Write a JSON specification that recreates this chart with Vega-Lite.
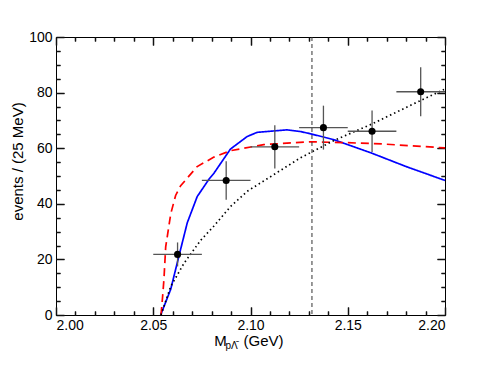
{
  "$schema": "https://vega.github.io/schema/vega-lite/v6.json",
  "width": 389,
  "height": 278,
  "autosize": {"type": "none"},
  "padding": {"left": 56, "top": 37, "right": 35, "bottom": 56},
  "config": {"view": {"stroke": "black"}, "axis": {"grid": false}},
  "datasets": {
    "curves": [
      {"m": 2.0538, "n": 0, "model": "blue"},
      {"m": 2.059, "n": 9.3, "model": "blue"},
      {"m": 2.0632, "n": 21.2, "model": "blue"},
      {"m": 2.0675, "n": 33.2, "model": "blue"},
      {"m": 2.0726, "n": 42.6, "model": "blue"},
      {"m": 2.0786, "n": 48.8, "model": "blue"},
      {"m": 2.0812, "n": 51.0, "model": "blue"},
      {"m": 2.0897, "n": 59.7, "model": "blue"},
      {"m": 2.0983, "n": 64.2, "model": "blue"},
      {"m": 2.1034, "n": 65.7, "model": "blue"},
      {"m": 2.1188, "n": 66.6, "model": "blue"},
      {"m": 2.1256, "n": 66.0, "model": "blue"},
      {"m": 2.1308, "n": 65.2, "model": "blue"},
      {"m": 2.1427, "n": 63.1, "model": "blue"},
      {"m": 2.1624, "n": 58.2, "model": "blue"},
      {"m": 2.18, "n": 53.4, "model": "blue"},
      {"m": 2.2, "n": 48.4, "model": "blue"},
      {"m": 2.0540, "n": 0, "model": "red"},
      {"m": 2.0548, "n": 6.5, "model": "red"},
      {"m": 2.0555, "n": 12.9, "model": "red"},
      {"m": 2.0564, "n": 24.5, "model": "red"},
      {"m": 2.059, "n": 36.4, "model": "red"},
      {"m": 2.0615, "n": 43.0, "model": "red"},
      {"m": 2.0641, "n": 46.5, "model": "red"},
      {"m": 2.0726, "n": 53.4, "model": "red"},
      {"m": 2.0812, "n": 56.8, "model": "red"},
      {"m": 2.0897, "n": 59.1, "model": "red"},
      {"m": 2.1068, "n": 61.3, "model": "red"},
      {"m": 2.1308, "n": 62.3, "model": "red"},
      {"m": 2.1496, "n": 62.0, "model": "red"},
      {"m": 2.1684, "n": 61.5, "model": "red"},
      {"m": 2.2, "n": 60.1, "model": "red"},
      {"m": 2.0540, "n": 0, "model": "black"},
      {"m": 2.059, "n": 10.3, "model": "black"},
      {"m": 2.0658, "n": 18.6, "model": "black"},
      {"m": 2.0744, "n": 26.9, "model": "black"},
      {"m": 2.0812, "n": 32.0, "model": "black"},
      {"m": 2.0897, "n": 39.0, "model": "black"},
      {"m": 2.0983, "n": 44.5, "model": "black"},
      {"m": 2.1154, "n": 52.0, "model": "black"},
      {"m": 2.1256, "n": 56.5, "model": "black"},
      {"m": 2.1427, "n": 62.7, "model": "black"},
      {"m": 2.1624, "n": 68.7, "model": "black"},
      {"m": 2.1855, "n": 76.5, "model": "black"},
      {"m": 2.2, "n": 81.3, "model": "black"}
    ],
    "points": [
      {"m": 2.0625, "n": 21.8, "mlo": 2.05, "mhi": 2.075, "nlo": 17.5, "nhi": 26.1},
      {"m": 2.0875, "n": 48.4, "mlo": 2.075, "mhi": 2.1, "nlo": 41.5, "nhi": 55.3},
      {"m": 2.1125, "n": 60.5, "mlo": 2.1, "mhi": 2.125, "nlo": 52.7, "nhi": 68.3},
      {"m": 2.1375, "n": 67.4, "mlo": 2.125, "mhi": 2.15, "nlo": 59.5, "nhi": 75.3},
      {"m": 2.1625, "n": 66.1, "mlo": 2.15, "mhi": 2.175, "nlo": 58.6, "nhi": 73.6},
      {"m": 2.1875, "n": 80.3, "mlo": 2.175, "mhi": 2.2, "nlo": 71.5, "nhi": 89.1}
    ],
    "threshold": [{"m": 2.1316}]
  },
  "resolve": {"axis": {"x": "independent", "y": "independent"}},
  "layer": [
    {
      "data": {"name": "curves"},
      "mark": {"type": "line", "strokeWidth": 1.7},
      "encoding": {
        "x": {"field": "m", "type": "quantitative", "scale": {"domain": [2.0, 2.2], "nice": false, "zero": false},
          "axis": {"orient": "bottom", "values": [2.0, 2.05, 2.1, 2.15, 2.2], "domain": false, "tickSize": -8, "tickColor": "#111111", "tickWidth": 1.5, "grid": true, "gridColor": "#111111", "gridWidth": 1, "gridOpacity": 1, "gridDash": [8, 262, 8, 1000], "labelPadding": 11, "labelFont": "Liberation Sans", "labelFontSize": 14, "labelColor": "black", "title": "M", "titleFont": "Liberation Sans", "titleFontSize": 15, "titleFontWeight": "normal", "titleColor": "black", "titleX": 164, "titleY": 30, "titleBaseline": "alphabetic", "titleAlign": "center"}},
        "y": {"field": "n", "type": "quantitative", "scale": {"domain": [0, 100], "nice": false},
          "axis": {"orient": "left", "values": [0, 20, 40, 60, 80, 100], "domain": false, "tickSize": -8, "tickColor": "#111111", "tickWidth": 1.5, "grid": true, "gridColor": "#111111", "gridWidth": 1, "gridOpacity": 1, "gridDash": [8, 373, 8, 1000], "labelPadding": 12, "labelFont": "Liberation Sans", "labelFontSize": 14, "labelColor": "black", "title": "events / (25 MeV)", "titleFont": "Liberation Sans", "titleFontSize": 15, "titleFontWeight": "normal", "titleColor": "black", "titleX": -39, "titleY": 124, "titleBaseline": "middle", "titleAlign": "center", "titleAngle": -90}},
        "color": {"field": "model", "type": "nominal", "scale": {"domain": ["blue", "red", "black"], "range": ["#0000ff", "#ff0000", "#000000"]}, "legend": null},
        "strokeDash": {"field": "model", "type": "nominal", "scale": {"domain": ["blue", "red", "black"], "range": [[1, 0], [8, 5], [1.5, 3]]}, "legend": null}
      }
    },
    {
      "data": {"name": "points"},
      "mark": {"type": "rule", "color": "#555555", "strokeWidth": 1.3},
      "encoding": {
        "x": {"field": "mlo", "type": "quantitative", "scale": {"domain": [2.0, 2.2], "nice": false, "zero": false},
          "axis": {"orient": "bottom", "values": [2.01, 2.02, 2.03, 2.04, 2.06, 2.07, 2.08, 2.09, 2.11, 2.12, 2.13, 2.14, 2.16, 2.17, 2.18, 2.19], "domain": false, "tickSize": -4, "tickColor": "#111111", "tickWidth": 1.5, "grid": true, "gridColor": "#111111", "gridWidth": 1, "gridOpacity": 1, "gridDash": [4, 270, 4, 1000], "labels": false, "title": "(GeV)", "titleFont": "Liberation Sans", "titleFontSize": 15, "titleFontWeight": "normal", "titleColor": "black", "titleX": 207, "titleY": 30, "titleBaseline": "alphabetic", "titleAlign": "center"}},
        "x2": {"field": "mhi"},
        "y": {"field": "n", "type": "quantitative", "scale": {"domain": [0, 100], "nice": false},
          "axis": {"orient": "left", "values": [5, 10, 15, 25, 30, 35, 45, 50, 55, 65, 70, 75, 85, 90, 95], "domain": false, "tickSize": -4, "tickColor": "#111111", "tickWidth": 1.5, "grid": true, "gridColor": "#111111", "gridWidth": 1, "gridOpacity": 1, "gridDash": [4, 381, 4, 1000], "labels": false, "title": null}}
      }
    },
    {
      "data": {"name": "points"},
      "mark": {"type": "rule", "color": "#555555", "strokeWidth": 1.3},
      "encoding": {
        "x": {"field": "m", "type": "quantitative", "scale": {"domain": [2.0, 2.2], "nice": false, "zero": false},
          "axis": {"orient": "top", "values": [2.0, 2.05, 2.1, 2.15, 2.2], "domain": false, "tickSize": -8, "tickColor": "#111111", "tickWidth": 1.5, "labels": false, "title": null}},
        "y": {"field": "nlo", "type": "quantitative", "scale": {"domain": [0, 100], "nice": false},
          "axis": {"orient": "right", "values": [0, 20, 40, 60, 80, 100], "domain": false, "tickSize": -8, "tickColor": "#111111", "tickWidth": 1.5, "labels": false, "title": null}},
        "y2": {"field": "nhi"}
      }
    },
    {
      "data": {"name": "points"},
      "mark": {"type": "circle", "color": "black", "opacity": 1, "size": 50},
      "encoding": {
        "x": {"field": "m", "type": "quantitative", "scale": {"domain": [2.0, 2.2], "nice": false, "zero": false},
          "axis": {"orient": "top", "values": [2.01, 2.02, 2.03, 2.04, 2.06, 2.07, 2.08, 2.09, 2.11, 2.12, 2.13, 2.14, 2.16, 2.17, 2.18, 2.19], "domain": false, "tickSize": -4, "tickColor": "#111111", "tickWidth": 1.5, "labels": false, "title": null}},
        "y": {"field": "n", "type": "quantitative", "scale": {"domain": [0, 100], "nice": false},
          "axis": {"orient": "right", "values": [5, 10, 15, 25, 30, 35, 45, 50, 55, 65, 70, 75, 85, 90, 95], "domain": false, "tickSize": -4, "tickColor": "#111111", "tickWidth": 1.5, "labels": false, "title": null}}
      }
    },
    {
      "data": {"name": "threshold"},
      "mark": {"type": "rule", "color": "#333333", "strokeWidth": 1, "strokeDash": [4, 3]},
      "encoding": {
        "x": {"field": "m", "type": "quantitative", "scale": {"domain": [2.0, 2.2], "nice": false, "zero": false},
          "axis": {"orient": "bottom", "domain": false, "ticks": false, "labels": false, "title": "pΛ̄", "titleFont": "Liberation Sans", "titleFontSize": 10, "titleFontWeight": "normal", "titleColor": "black", "titleX": 175, "titleY": 33, "titleBaseline": "alphabetic", "titleAlign": "center"}}
      }
    }
  ]
}
